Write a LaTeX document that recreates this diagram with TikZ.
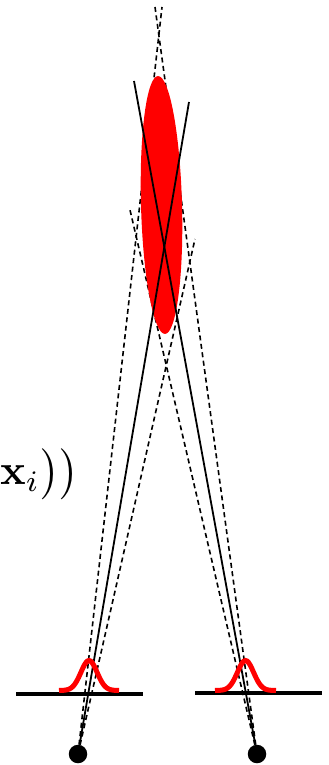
\documentclass[tikz,border=0pt]{standalone}
\usepackage{amsmath}
\tikzset{
  camera/.style={circle,fill=black,draw=none,minimum size=18.5pt,inner sep=0pt},
  ray/.style={black,line width=1.8pt},
  rayguess/.style={black,line width=1.6pt,dash pattern=on 5pt off 3.5pt},
  plane/.style={black,line width=4.5pt},
  bump/.style={red,line width=5pt},
}
\begin{document}
\begin{tikzpicture}[x=1pt,y=-1pt]
\useasboundingbox (0,0) rectangle (329,765);
% cameras
\node[camera] (camL) at (78,754) {};
\node[camera] (camR) at (257,754) {};
% ray end points
\coordinate (dLa) at (162,7);
\coordinate (dLb) at (195,239);
\coordinate (dRa) at (155,7);
\coordinate (dRb) at (130,210);
\coordinate (sL) at (189,102);
\coordinate (sR) at (134,81);
\coordinate (pLa) at (16,694);
\coordinate (pLb) at (143,694);
\coordinate (pRa) at (195,693);
\coordinate (pRb) at (322,693);
% dashed rays
\draw[rayguess] (camL) -- (dLa);
\draw[rayguess] (camL) -- (dLb);
\draw[rayguess] (camR) -- (dRa);
\draw[rayguess] (camR) -- (dRb);
% uncertainty ellipse
\fill[red,rotate around={1.55:(161.5,205)}] (161.5,205) ellipse [x radius=20.5pt,y radius=129pt];
% image planes
\draw[plane] (pLa) -- (pLb);
\draw[plane] (pRa) -- (pRb);
% solid rays
\draw[ray] (camL) -- (sL);
\draw[ray] (camR) -- (sR);
% gaussians
\draw[bump] plot[smooth,samples=41,domain=59:119,variable=\t] (\t,{690.5-30*exp(-(\t-89)*(\t-89)/130)});
\draw[bump] plot[smooth,samples=41,domain=215:276,variable=\t] (\t,{690.5-30*exp(-(\t-245.5)*(\t-245.5)/130)});
% text
\node[anchor=west,inner sep=0pt] (lbl) at (0,474) {\scalebox{4.25}{$\mathbf{x}_i\big)\big)$}};
\end{tikzpicture}
\end{document}
